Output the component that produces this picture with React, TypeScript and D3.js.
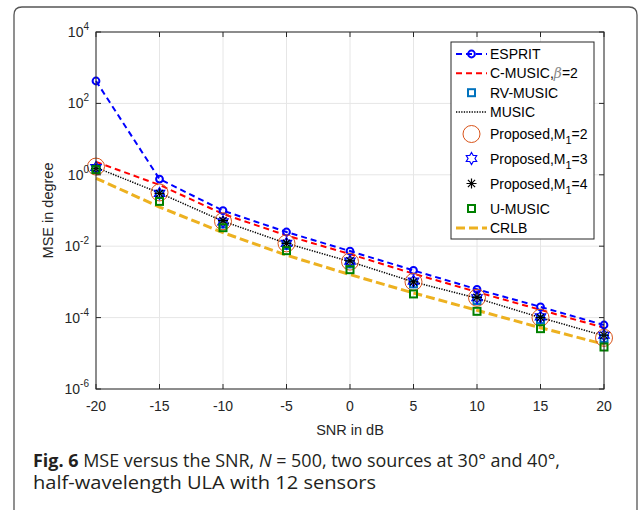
import React from 'react';
import * as d3 from 'd3';

// SNR points (dB) and MSE curves (degree^2)
const snr = [-20, -15, -10, -5, 0, 5, 10, 15, 20];
const esprit = [424, 0.76, 0.099, 0.025, 0.0073, 0.0021, 6.2e-4, 2.0e-4, 6.2e-5];
const cmusic = [2.3, 0.52, 0.08, 0.02, 0.006, 0.0017, 5.2e-4, 1.65e-4, 5.2e-5];
const rvmusic = [1.5, 0.28, 0.042, 0.0105, 0.0032, 8.8e-4, 3.0e-4, 8.8e-5, 2.6e-5];
const music = [1.6, 0.31, 0.05, 0.012, 0.0037, 0.001, 3.5e-4, 1.0e-4, 3.1e-5];
const proposed2 = [1.7, 0.32, 0.05, 0.012, 0.0037, 0.001, 3.6e-4, 1.0e-4, 2.7e-5];
const proposed3 = [1.6, 0.3, 0.048, 0.012, 0.0038, 0.00105, 3.6e-4, 1.05e-4, 3.2e-5];
const proposed4 = [1.5, 0.3, 0.052, 0.012, 0.0039, 0.001, 3.7e-4, 1.0e-4, 3.2e-5];
const umusic = [1.4, 0.18, 0.033, 0.0075, 0.0022, 4.6e-4, 1.5e-4, 4.9e-5, 1.5e-5];
const crlb = [0.8, 0.125, 0.024, 0.0056, 0.0016, 4.9e-4, 1.6e-4, 5.2e-5, 1.8e-5];

const xTicks = [-20, -15, -10, -5, 0, 5, 10, 15, 20];
const yExps = [-6, -4, -2, 0, 2, 4];

const FONT = "'Liberation Sans', Arial, Helvetica, sans-serif";
const CAPTION_FONT = "'Open Sans', 'Noto Sans', sans-serif";
const AXIS = '#262626';

const x = d3.scaleLinear().domain([-20, 20]).range([96, 604]);
const y = d3.scaleLog().domain([1e-6, 1e4]).range([389, 32]);

type Kind = 'circle' | 'square' | 'bigcircle' | 'hexagram' | 'asterisk' | null;

const series: {
  label: React.ReactNode;
  values: number[];
  color: string;
  dash?: string;
  width?: number;
  marker: Kind;
  ly: number;
}[] = [
  { label: 'ESPRIT', values: esprit, color: '#0000ff', dash: '6,4', width: 2, marker: 'circle', ly: 54 },
  {
    label: (
      <>
        C-MUSIC,
        <tspan fontStyle="italic" fill="#8a8a8a" fontFamily="'DejaVu Serif', serif">β</tspan>
        =2
      </>
    ),
    values: cmusic, color: '#ff0000', dash: '6,4', width: 2, marker: null, ly: 73.3
  },
  { label: 'RV-MUSIC', values: rvmusic, color: '#0072bd', marker: 'square', ly: 92.7 },
  { label: 'MUSIC', values: music, color: '#000000', dash: '1.3,1.3', width: 1.5, marker: null, ly: 112 },
  {
    label: <>Proposed,M<tspan dy={5} fontSize={11}>1</tspan><tspan dy={-5}>=2</tspan></>,
    values: proposed2, color: '#d95319', marker: 'bigcircle', ly: 134
  },
  {
    label: <>Proposed,M<tspan dy={5} fontSize={11}>1</tspan><tspan dy={-5}>=3</tspan></>,
    values: proposed3, color: '#0000ff', marker: 'hexagram', ly: 158.5
  },
  {
    label: <>Proposed,M<tspan dy={5} fontSize={11}>1</tspan><tspan dy={-5}>=4</tspan></>,
    values: proposed4, color: '#000000', marker: 'asterisk', ly: 183.5
  },
  { label: 'U-MUSIC', values: umusic, color: '#008000', marker: 'square', ly: 208.5 },
  { label: 'CRLB', values: crlb, color: '#edb120', dash: '9,4', width: 3, marker: null, ly: 228 }
];

function hexagram(cx: number, cy: number, R: number) {
  const r = R / Math.sqrt(3);
  const pts: string[] = [];
  for (let i = 0; i < 12; i++) {
    const a = -Math.PI / 2 + (i * Math.PI) / 6;
    const rr = i % 2 === 0 ? R : r;
    pts.push(`${cx + rr * Math.cos(a)},${cy + rr * Math.sin(a)}`);
  }
  return 'M' + pts.join('L') + 'Z';
}

function Marker({ kind, cx, cy, color }: { kind: Kind; cx: number; cy: number; color: string }) {
  switch (kind) {
    case 'circle':
      return <circle cx={cx} cy={cy} r={3.4} fill="none" stroke={color} strokeWidth={2} />;
    case 'bigcircle':
      return <circle cx={cx} cy={cy} r={8.5} fill="none" stroke={color} strokeWidth={1} />;
    case 'square':
      return <rect x={cx - 3.5} y={cy - 3.5} width={7} height={7} fill="none" stroke={color} strokeWidth={2} />;
    case 'hexagram':
      return <path d={hexagram(cx, cy, 6)} fill="none" stroke={color} strokeWidth={1.2} />;
    case 'asterisk': {
      const s = 5;
      const d = s * 0.72;
      return (
        <path
          d={`M${cx - s},${cy}H${cx + s}M${cx},${cy - s}V${cy + s}M${cx - d},${cy - d}L${cx + d},${cy + d}M${cx - d},${cy + d}L${cx + d},${cy - d}`}
          stroke={color}
          strokeWidth={1.2}
        />
      );
    }
    default:
      return null;
  }
}

export default function App() {
  const line = d3
    .line<number>()
    .x((_, i) => x(snr[i]))
    .y(d => y(d));

  const [x0, x1] = x.range();
  const [yb, yt] = y.range();

  return (
    <svg
      width={639}
      height={510}
      viewBox="0 0 639 510"
      style={{ position: 'absolute', left: 0, top: 0, background: '#fff', fontFamily: FONT }}
    >
      <rect width={639} height={510} fill="#fff" />
      {/* outer frame */}
      <path d="M14,520V15Q14,7 22,7H629Q637,7 637,15V520" fill="none" stroke="#555" strokeWidth={1.3} />

      {/* grid */}
      {xTicks.map(t => (
        <line key={'gx' + t} x1={x(t)} x2={x(t)} y1={yt} y2={yb} stroke="#e6e6e6" strokeWidth={1} />
      ))}
      {yExps.map(e => (
        <line key={'gy' + e} x1={x0} x2={x1} y1={y(10 ** e)} y2={y(10 ** e)} stroke="#e6e6e6" strokeWidth={1} />
      ))}

      {/* series lines */}
      {series.map((s, i) =>
        s.dash ? (
          <path
            key={'l' + i}
            d={line(s.values) || ''}
            fill="none"
            stroke={s.color}
            strokeWidth={s.width}
            strokeDasharray={s.dash}
          />
        ) : null
      )}
      {/* markers */}
      {series.map((s, i) =>
        s.marker
          ? s.values.map((v, j) => (
              <Marker key={`m${i}-${j}`} kind={s.marker} cx={x(snr[j])} cy={y(v)} color={s.color} />
            ))
          : null
      )}

      {/* axes box and ticks */}
      <rect x={x0} y={yt} width={x1 - x0} height={yb - yt} fill="none" stroke={AXIS} strokeWidth={1} />
      {xTicks.map(t => (
        <g key={'tx' + t} stroke={AXIS}>
          <line x1={x(t)} x2={x(t)} y1={yb} y2={yb - 5} />
          <line x1={x(t)} x2={x(t)} y1={yt} y2={yt + 5} />
        </g>
      ))}
      {yExps.map(e => (
        <g key={'ty' + e} stroke={AXIS}>
          <line x1={x0} x2={x0 + 5} y1={y(10 ** e)} y2={y(10 ** e)} />
          <line x1={x1} x2={x1 - 5} y1={y(10 ** e)} y2={y(10 ** e)} />
        </g>
      ))}
      {xTicks.map(t => (
        <text key={'lx' + t} x={x(t)} y={411} textAnchor="middle" fontSize={14} fill={AXIS}>
          {t}
        </text>
      ))}
      {yExps.map(e => (
        <text key={'ly' + e} x={89} y={y(10 ** e) + 5} textAnchor="end" fontSize={14} fill={AXIS}>
          10
          <tspan dy={-7} fontSize={10}>
            {e}
          </tspan>
        </text>
      ))}
      <text x={350} y={435} textAnchor="middle" fontSize={14.5} fill={AXIS}>
        SNR in dB
      </text>
      <text
        transform={`translate(53,${(yt + yb) / 2}) rotate(-90)`}
        textAnchor="middle"
        fontSize={14.5}
        fill={AXIS}
      >
        MSE in degree
      </text>

      {/* legend */}
      <rect x={451} y={42} width={143} height={197} fill="#fff" stroke={AXIS} strokeWidth={1} />
      {series.map((s, i) => (
        <g key={'lg' + i}>
          {s.dash ? (
            <line
              x1={456}
              x2={487}
              y1={s.ly}
              y2={s.ly}
              stroke={s.color}
              strokeWidth={s.width}
              strokeDasharray={s.dash}
            />
          ) : null}
          {s.marker ? <Marker kind={s.marker} cx={471.5} cy={s.ly} color={s.color} /> : null}
          <text x={490} y={s.ly + 5} fontSize={14} fill="#000">
            {s.label}
          </text>
        </g>
      ))}

      {/* caption */}
      <text
        x={33}
        y={467}
        fontSize={18}
        fill="#231f20"
        textLength={527}
        lengthAdjust="spacingAndGlyphs"
        style={{ fontFamily: CAPTION_FONT }}
      >
        <tspan fontWeight="bold">Fig. 6</tspan> MSE versus the SNR, <tspan fontStyle="italic">N</tspan> = 500, two
        sources at 30° and 40°,
      </text>
      <text
        x={33}
        y={489}
        fontSize={18}
        fill="#231f20"
        textLength={343}
        lengthAdjust="spacingAndGlyphs"
        style={{ fontFamily: CAPTION_FONT }}
      >
        half-wavelength ULA with 12 sensors
      </text>
    </svg>
  );
}
